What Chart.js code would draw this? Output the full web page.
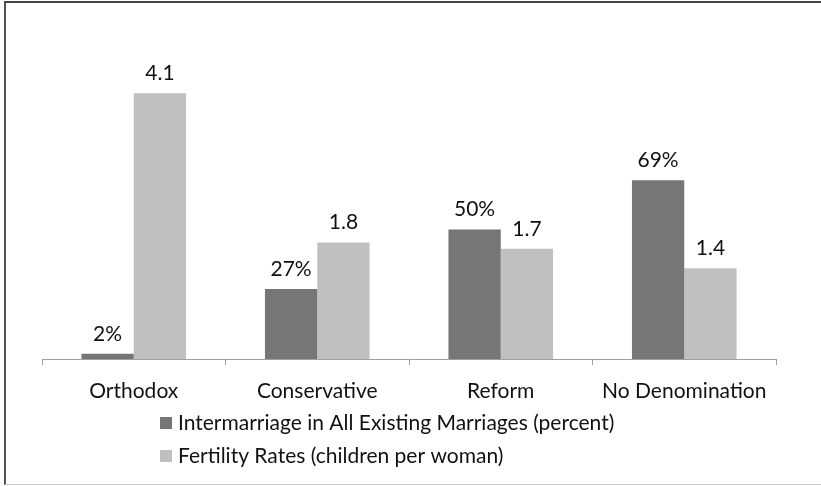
<!DOCTYPE html>
<html>
<head>
<meta charset="utf-8">
<script src="https://cdn.jsdelivr.net/npm/chart.js@4.4.0/dist/chart.umd.min.js"></script>
<style>
  html, body { margin: 0; padding: 0; background: #fff; }
  #wrap { position: relative; width: 821px; height: 486px; }
  #frame { position: absolute; left: 4px; top: 1px; width: 817px; height: 484px;
           border-left: 2px solid #555; border-top: 2px solid #444; border-bottom: 1px solid #c8c8c8;
           box-sizing: border-box; pointer-events: none; }
  canvas { position: absolute; left: 0; top: 0; }
</style>
</head>
<body>
<div id="wrap">
  <canvas id="c" width="821" height="486"></canvas>
  <div id="frame"></div>
</div>
<script>
const categories = ["Orthodox", "Conservative", "Reform", "No Denomination"];
const intermarriage = [2, 27, 50, 69];
const fertility = [4.1, 1.8, 1.7, 1.4];
const seriesLabels = ["Intermarriage in All Existing Marriages (percent)", "Fertility Rates (children per woman)"];
const seriesColors = ["#767676", "#c0c0c0"];

const FONT = "Lato, 'Open Sans', sans-serif";
const FSIZE = 21;

const labelPlugin = {
  id: 'valueLabels',
  afterDatasetsDraw(chart) {
    const ctx = chart.ctx;
    ctx.save();
    ctx.font = FSIZE + 'px ' + FONT;
    ctx.fillStyle = '#111';
    ctx.textAlign = 'center';
    ctx.textBaseline = 'middle';
    chart.data.datasets.forEach((ds, i) => {
      const meta = chart.getDatasetMeta(i);
      meta.data.forEach((bar, j) => {
        const v = ds.data[j];
        const txt = i === 0 ? v + '%' : v.toFixed(1);
        ctx.fillText(txt, bar.x, bar.y - 20);
      });
    });
    ctx.restore();
  }
};

const legendPlugin = {
  id: 'stackLegend',
  afterDraw(chart) {
    const ctx = chart.ctx;
    ctx.save();
    ctx.font = FSIZE + 'px ' + FONT;
    ctx.textAlign = 'left';
    ctx.textBaseline = 'middle';
    chart.data.datasets.forEach((ds, i) => {
      const y = 423 + i * 33;
      ctx.fillStyle = ds.backgroundColor;
      ctx.fillRect(160, y - 6, 12, 12);
      ctx.fillStyle = '#111';
      ctx.fillText(ds.label, 178, y);
    });
    ctx.restore();
  }
};

new Chart(document.getElementById('c'), {
  type: 'bar',
  data: {
    labels: categories,
    datasets: [
      { label: seriesLabels[0], data: intermarriage, backgroundColor: seriesColors[0], yAxisID: 'y' },
      { label: seriesLabels[1], data: fertility, backgroundColor: seriesColors[1], yAxisID: 'y2' }
    ]
  },
  options: {
    responsive: false,
    devicePixelRatio: 1,
    animation: false,
    categoryPercentage: 0.57,
    barPercentage: 1.0,
    layout: { padding: { left: 42, right: 45, top: 48, bottom: 86 } },
    plugins: { legend: { display: false }, tooltip: { enabled: false } },
    scales: {
      x: {
        afterFit(scale) { scale.height = 41; },
        grid: { display: true, drawOnChartArea: false, drawTicks: true, tickLength: 6, offset: true, color: '#a0a0a0' },
        border: { display: true, color: '#a0a0a0', width: 1 },
        ticks: { color: '#111', font: { family: FONT, size: FSIZE }, padding: 14, maxRotation: 0 }
      },
      y: { display: false, min: 0, max: 120 },
      y2: { display: false, min: 0, max: 4.8, position: 'right' }
    }
  },
  plugins: [labelPlugin, legendPlugin]
});
</script>
</body>
</html>
